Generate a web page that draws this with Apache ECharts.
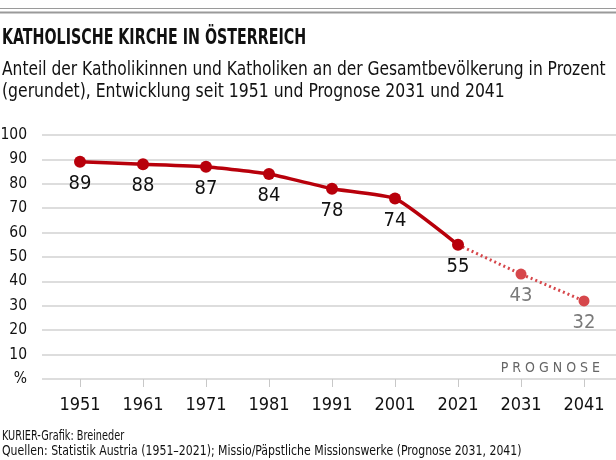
<!DOCTYPE html>
<html><head><meta charset="utf-8">
<script src="https://cdn.jsdelivr.net/npm/echarts@6/dist/echarts.min.js"></script>
<style>html,body{margin:0;padding:0;background:#fff}#c{width:616px;height:460px}</style>
</head><body><div id="c"></div>
<script>
var years = ['1951','1961','1971','1981','1991','2001','2021','2031','2041'];
var actual = [89, 88, 87, 84, 78, 74, 55, null, null];
var forecast = [null, null, null, null, null, null, 55, 43, 32];
var yTicks = [0,10,20,30,40,50,60,70,80,90,100];

var FONT = '"Liberation Sans Narrow","DejaVu Sans Condensed","Roboto Condensed",sans-serif';
var chart = echarts.init(document.getElementById('c'), null, {renderer:'canvas'});

var actualData = actual.map(function(v,i){ return v; });
var forecastData = forecast.map(function(v,i){
  if (v === null) return null;
  if (i === 6) return {value:v, symbolSize:0, label:{show:false}};
  return v;
});

chart.setOption({
  backgroundColor:'#fff',
  animation:false,
  textStyle:{fontFamily:FONT},
  grid:[
    {left:48.5, right:0.5, top:135, bottom:81, containLabel:false, outerBoundsMode:'none'},
    {left:42, right:0, top:135, bottom:81, containLabel:false, outerBoundsMode:'none'}
  ],
  xAxis:[
    {type:'category', data:years, gridIndex:0, boundaryGap:true,
     axisLine:{show:false},
     axisTick:{show:true, alignWithLabel:true, length:8, lineStyle:{color:'#c8c8c8'}},
     axisLabel:{color:'#111', fontSize:18, fontFamily:FONT, margin:17},
     splitLine:{show:false}, z:5},
    {type:'value', gridIndex:1, min:0, max:1, show:false}
  ],
  yAxis:[
    {type:'value', gridIndex:0, min:0, max:100, interval:10,
     axisLine:{show:false}, axisTick:{show:false},
     axisLabel:{show:false}, splitLine:{show:false}},
    {type:'value', gridIndex:1, min:0, max:100, interval:10,
     axisLine:{show:false}, axisTick:{show:false},
     axisLabel:{show:true, color:'#111', fontSize:15.5, fontFamily:FONT, margin:15, align:'right',
       formatter:function(v){ return v===0 ? '%' : String(v); }},
     splitLine:{show:true, lineStyle:{color:'#d2d2d2', width:1.5}}}
  ],
  series:[
    {type:'line', xAxisIndex:0, yAxisIndex:0, data:forecastData,
     lineStyle:{color:'#d6474b', width:3, type:[2,3]},
     itemStyle:{color:'#d6474b'}, symbol:'circle', symbolSize:11,
     smooth:false, connectNulls:false,
     label:{show:true, position:'bottom', distance:6, color:'#7a7a7a', fontSize:20, fontFamily:FONT},
     z:3},
    {type:'line', xAxisIndex:0, yAxisIndex:0, data:actualData,
     lineStyle:{color:'#b8000b', width:3.5},
     itemStyle:{color:'#b8000b'}, symbol:'circle', symbolSize:12,
     smooth:0.15, connectNulls:false,
     label:{show:true, position:'bottom', distance:6, color:'#111', fontSize:20, fontFamily:FONT},
     z:4}
  ],
  graphic:[
    {type:'rect', shape:{x:0,y:8,width:616,height:1}, style:{fill:'#9a9a9a'}},
    {type:'rect', shape:{x:0,y:11.5,width:616,height:2}, style:{fill:'#9a9a9a'}},
    {type:'text', x:2, y:27, scaleX:0.72, style:{text:'KATHOLISCHE KIRCHE IN ÖSTERREICH', fontFamily:FONT, fontWeight:'bold', fontSize:22, fill:'#111'}},
    {type:'text', x:2, y:60, scaleX:0.86, style:{text:'Anteil der Katholikinnen und Katholiken an der Gesamtbevölkerung in Prozent', fontFamily:FONT, fontSize:20, fill:'#111'}},
    {type:'text', x:2, y:82, scaleX:0.87, style:{text:'(gerundet), Entwicklung seit 1951 und Prognose 2031 und 2041', fontFamily:FONT, fontSize:20, fill:'#111'}},
    {type:'text', right:16, top:361, style:{text:'P R O G N O S E', fontFamily:FONT, fontSize:14, fill:'#666'}},
    {type:'text', x:2, y:429, scaleX:0.8, style:{text:'KURIER-Grafik: Breineder', fontFamily:FONT, fontSize:13.5, fill:'#111'}},
    {type:'text', x:2, y:444, scaleX:0.9, style:{text:'Quellen: Statistik Austria (1951–2021); Missio/Päpstliche Missionswerke (Prognose 2031, 2041)', fontFamily:FONT, fontSize:13.5, fill:'#111'}}
  ]
});
</script></body></html>
